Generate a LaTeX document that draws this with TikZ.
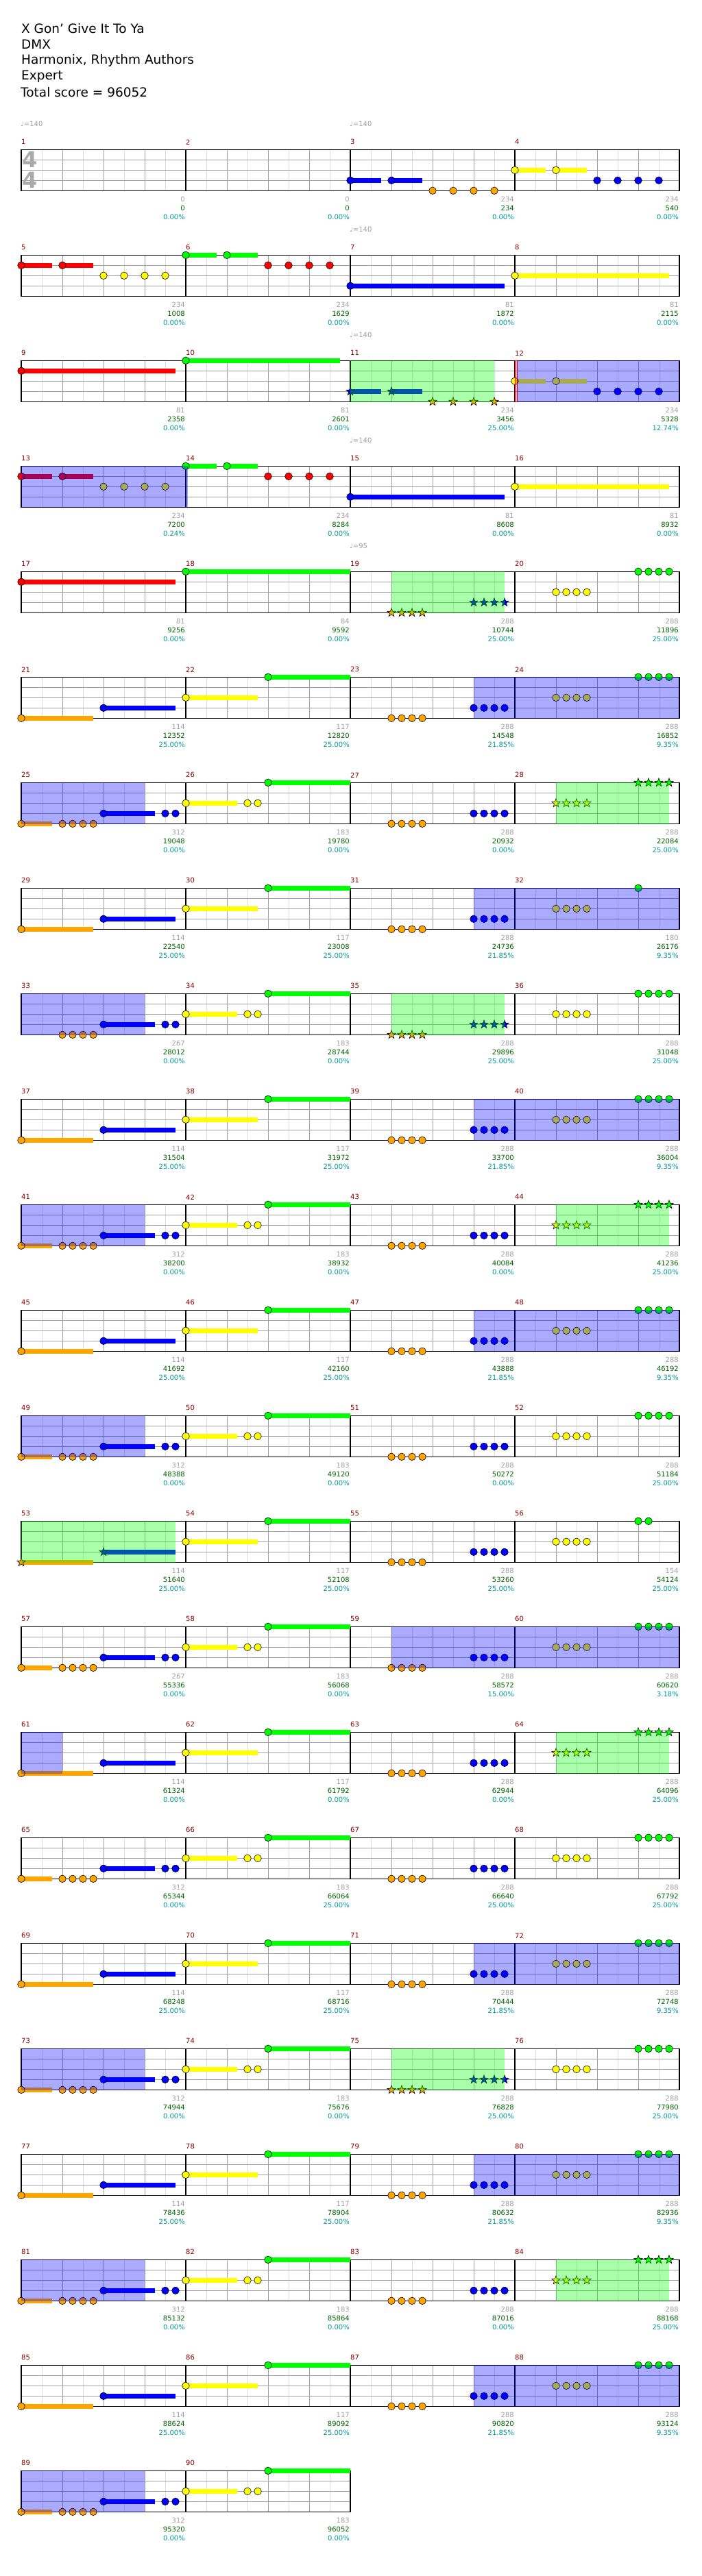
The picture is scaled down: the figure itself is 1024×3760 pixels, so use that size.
\documentclass[tikz,border=0pt]{standalone}
\usepackage{fontspec}
\setmainfont{DejaVu Sans}
\definecolor{lane0}{RGB}{0,255,0}
\definecolor{lane1}{RGB}{255,0,0}
\definecolor{lane2}{RGB}{255,255,0}
\definecolor{lane3}{RGB}{0,0,255}
\definecolor{lane4}{RGB}{255,165,0}
\definecolor{gridl}{RGB}{221,221,221}
\definecolor{gridd}{RGB}{160,160,160}
\definecolor{numgray}{RGB}{160,160,160}
\definecolor{numgreen}{RGB}{0,100,0}
\definecolor{numcyan}{RGB}{0,153,153}
\definecolor{mnumred}{RGB}{139,0,0}
\definecolor{tsgray}{RGB}{170,170,170}
\tikzset{
 notec/.style={draw=black,line width=0.6pt},
 gridlight/.style={draw=gridl,line width=1pt},
 griddark/.style={draw=gridd,line width=1pt},
 barline/.style={draw=black,line width=1.3pt},
 smalltxt/.style={inner sep=0pt,font=\fontsize{10}{12}\selectfont},
 titletxt/.style={inner sep=0pt,anchor=west,font=\fontsize{18.5}{22}\selectfont},
 bluereg/.style={fill=lane3,fill opacity=0.333},
 greenreg/.style={fill=lane0,fill opacity=0.333},
}
\newcommand\mpos[1]{\pgfmathtruncatemacro\mr{(#1-1)/4}\pgfmathtruncatemacro\mc{#1-1-4*\mr}\pgfmathsetmacro\mx{31+240*\mc}\pgfmathsetmacro\my{218.3+154*\mr}}
\newcommand\gnote[3]{\mpos{#1}\draw[notec,fill=lane#2] (\mx+#3,\my+15*#2) circle[radius=5.3];}
\newcommand\gsus[4]{\mpos{#1}\fill[lane#2] (\mx+#3,\my+15*#2-3.2) rectangle (\mx+#4,\my+15*#2+3.2);\draw[notec,fill=lane#2] (\mx+#3,\my+15*#2) circle[radius=5.3];}
\newcommand\gstar[3]{\mpos{#1}\draw[notec,fill=lane#2,shift={(\mx+#3,\my+15*#2)}] (-90:6.5) -- (-54:2.6) -- (-18:6.5) -- (18:2.6) -- (54:6.5) -- (90:2.6) -- (126:6.5) -- (162:2.6) -- (198:6.5) -- (234:2.6) -- cycle;}
\newcommand\gsstar[4]{\mpos{#1}\fill[lane#2] (\mx+#3,\my+15*#2-3.2) rectangle (\mx+#4,\my+15*#2+3.2);\gstar{#1}{#2}{#3}}
\newcommand\gquad[3]{\foreach \q in {0,15,30,45}{\gnote{#1}{#2}{#3+\q}}}
\newcommand\gquads[3]{\foreach \q in {0,15,30,45}{\gstar{#1}{#2}{#3+\q}}}
\newcommand\gfour[2]{\foreach \q in {120,150,180,210}{\gnote{#1}{#2}{\q}}}
\newcommand\gfours[2]{\foreach \q in {120,150,180,210}{\gstar{#1}{#2}{\q}}}
\newcommand\gblue[3]{\mpos{#1}\fill[bluereg] (\mx+#2,\my-0.8) rectangle (\mx+#3,\my+60.8);}
\newcommand\ggreen[3]{\mpos{#1}\fill[greenreg] (\mx+#2,\my-0.8) rectangle (\mx+#3,\my+60.8);}
\newcommand\gnums[4]{\mpos{#1}%
 \node[smalltxt,text=numgray,anchor=east] (ga#1) at (\mx+239,\my+72.7) {#2};%
 \node[smalltxt,text=numgreen,anchor=east] (gb#1) at (\mx+239,\my+85.7) {#3};%
 \node[smalltxt,text=numcyan,anchor=east] (gc#1) at (\mx+239,\my+98.4) {#4\%};}
\newcommand\gtempo[2]{\mpos{#1}\node[smalltxt,text=numgray,anchor=west] (tp#1) at (\mx-1,\my-37) {♩=#2};}
% patterns
\newcommand\patA[1]{\gsus{#1}{4}{0}{105}\gsus{#1}{3}{120}{225}}
\newcommand\patB[1]{\gsus{#1}{2}{0}{105}\gsus{#1}{0}{120}{240}}
\newcommand\patC[1]{\gquad{#1}{4}{60}\gquad{#1}{3}{180}}
\newcommand\patCs[1]{\gquads{#1}{4}{60}\gquads{#1}{3}{180}}
\newcommand\patD[1]{\gquad{#1}{2}{60}\gquad{#1}{0}{180}}
\newcommand\patDs[1]{\gquads{#1}{2}{60}\gquads{#1}{0}{180}}
\newcommand\patEp[1]{\gquad{#1}{4}{60}\gsus{#1}{3}{120}{195}\gnote{#1}{3}{210}\gnote{#1}{3}{225}}
\newcommand\patE[1]{\gsus{#1}{4}{0}{45}\patEp{#1}}
\newcommand\patF[1]{\gsus{#1}{2}{0}{75}\gnote{#1}{2}{90}\gnote{#1}{2}{105}\gsus{#1}{0}{120}{240}}
\begin{document}
\begin{tikzpicture}[x=1pt,y=-1pt]
\fill[white] (0,0) rectangle (1024,3760);
\useasboundingbox (0,0) rectangle (1024,3760);
% title
\node[titletxt] (t1) at (31,42) {X Gon' Give It To Ya};
\node[titletxt] (t2) at (31,65) {DMX};
\node[titletxt] (t3) at (31,88.3) {Harmonix, Rhythm Authors};
\node[titletxt] (t4) at (31,111.7) {Expert};
\node[titletxt] (t5) at (30,134.3) {Total score = 96052};
% grid
\foreach \m in {1,...,90}{\mpos{\m}
 \foreach \k in {30,90,150,210}{\draw[gridlight] (\mx+\k,\my) -- (\mx+\k,\my+60);}
 \foreach \k in {60,120,180}{\draw[griddark] (\mx+\k,\my) -- (\mx+\k,\my+60);}
 \foreach \k in {15,30,45}{\draw[griddark] (\mx,\my+\k) -- (\mx+240,\my+\k);}
 \draw[barline] (\mx,\my) -- (\mx,\my+60);
 \node[smalltxt,text=mnumred,anchor=west] (mn\m) at (\mx,\my-11) {\m};
}
\foreach \r in {0,...,21}{\draw[barline] (31,218.3+154*\r) rectangle (991,278.3+154*\r);}
\draw[barline] (31,218.3+154*22) rectangle (511,278.3+154*22);
\node[inner sep=0pt,text=tsgray,font=\fontsize{32}{32}\bfseries] (ts1) at (44,233.3) {4};
\node[inner sep=0pt,text=tsgray,font=\fontsize{32}{32}\bfseries] (ts2) at (44,263.3) {4};
% tempos
\gtempo{1}{140}\gtempo{3}{140}\gtempo{7}{140}\gtempo{11}{140}\gtempo{15}{140}\gtempo{19}{95}
% notes
\gsus{3}{3}{0}{45}\gsus{3}{3}{60}{105}\gfour{3}{4}
\gsus{4}{2}{0}{45}\gsus{4}{2}{60}{105}\gfour{4}{3}
\gsus{5}{1}{0}{45}\gsus{5}{1}{60}{105}\gfour{5}{2}
\gsus{6}{0}{0}{45}\gsus{6}{0}{60}{105}\gfour{6}{1}
\gsus{7}{3}{0}{225}
\gsus{8}{2}{0}{225}
\gsus{9}{1}{0}{225}
\gsus{10}{0}{0}{225}
\gsstar{11}{3}{0}{45}\gsstar{11}{3}{60}{105}\gfours{11}{4}
\gsus{12}{2}{0}{45}\gsus{12}{2}{60}{105}\gfour{12}{3}
\gsus{13}{1}{0}{45}\gsus{13}{1}{60}{105}\gfour{13}{2}
\gsus{14}{0}{0}{45}\gsus{14}{0}{60}{105}\gfour{14}{1}
\gsus{15}{3}{0}{225}
\gsus{16}{2}{0}{225}
\gsus{17}{1}{0}{225}
\gsus{18}{0}{0}{240}
\patCs{19}
\patD{20}
\patA{21}\patB{22}\patC{23}\patD{24}
\patE{25}\patF{26}\patC{27}\patDs{28}
\patA{29}\patB{30}\patC{31}\gquad{32}{2}{60}\gnote{32}{0}{180}
\patEp{33}\patF{34}\patCs{35}\patD{36}
\patA{37}\patB{38}\patC{39}\patD{40}
\patE{41}\patF{42}\patC{43}\patDs{44}
\patA{45}\patB{46}\patC{47}\patD{48}
\patE{49}\patF{50}\patC{51}\patD{52}
\gsstar{53}{4}{0}{105}\gsstar{53}{3}{120}{225}\patB{54}\patC{55}\gquad{56}{2}{60}\gnote{56}{0}{180}\gnote{56}{0}{195}
\patE{57}\patF{58}\patC{59}\patD{60}
\patA{61}\patB{62}\patC{63}\patDs{64}
\patE{65}\patF{66}\patC{67}\patD{68}
\patA{69}\patB{70}\patC{71}\patD{72}
\patE{73}\patF{74}\patCs{75}\patD{76}
\patA{77}\patB{78}\patC{79}\patD{80}
\patE{81}\patF{82}\patC{83}\patDs{84}
\patA{85}\patB{86}\patC{87}\patD{88}
\patE{89}\patF{90}
% overlays
\ggreen{11}{0}{210}
\mpos{12}\fill[lane1,fill opacity=0.333,draw=lane1,line width=0.6pt] (\mx,\my) rectangle (\mx+3.4,\my+60);
\gblue{12}{3.4}{240}
\gblue{13}{0}{243}
\ggreen{19}{60}{225}
\gblue{23}{180}{480}
\gblue{25}{0}{180}
\ggreen{28}{60}{225}
\gblue{31}{180}{480}
\gblue{33}{0}{180}
\ggreen{35}{60}{225}
\gblue{39}{180}{480}
\gblue{41}{0}{180}
\ggreen{44}{60}{225}
\gblue{47}{180}{480}
\gblue{49}{0}{180}
\ggreen{53}{0}{225}
\gblue{59}{60}{480}
\gblue{61}{0}{60}
\ggreen{64}{60}{225}
\gblue{71}{180}{480}
\gblue{73}{0}{180}
\ggreen{75}{60}{225}
\gblue{79}{180}{480}
\gblue{81}{0}{180}
\ggreen{84}{60}{225}
\gblue{87}{180}{480}
\gblue{89}{0}{180}
% numbers
\gnums{1}{0}{0}{0.00}\gnums{2}{0}{0}{0.00}\gnums{3}{234}{234}{0.00}\gnums{4}{234}{540}{0.00}
\gnums{5}{234}{1008}{0.00}\gnums{6}{234}{1629}{0.00}\gnums{7}{81}{1872}{0.00}\gnums{8}{81}{2115}{0.00}
\gnums{9}{81}{2358}{0.00}\gnums{10}{81}{2601}{0.00}\gnums{11}{234}{3456}{25.00}\gnums{12}{234}{5328}{12.74}
\gnums{13}{234}{7200}{0.24}\gnums{14}{234}{8284}{0.00}\gnums{15}{81}{8608}{0.00}\gnums{16}{81}{8932}{0.00}
\gnums{17}{81}{9256}{0.00}\gnums{18}{84}{9592}{0.00}\gnums{19}{288}{10744}{25.00}\gnums{20}{288}{11896}{25.00}
\gnums{21}{114}{12352}{25.00}\gnums{22}{117}{12820}{25.00}\gnums{23}{288}{14548}{21.85}\gnums{24}{288}{16852}{9.35}
\gnums{25}{312}{19048}{0.00}\gnums{26}{183}{19780}{0.00}\gnums{27}{288}{20932}{0.00}\gnums{28}{288}{22084}{25.00}
\gnums{29}{114}{22540}{25.00}\gnums{30}{117}{23008}{25.00}\gnums{31}{288}{24736}{21.85}\gnums{32}{180}{26176}{9.35}
\gnums{33}{267}{28012}{0.00}\gnums{34}{183}{28744}{0.00}\gnums{35}{288}{29896}{25.00}\gnums{36}{288}{31048}{25.00}
\gnums{37}{114}{31504}{25.00}\gnums{38}{117}{31972}{25.00}\gnums{39}{288}{33700}{21.85}\gnums{40}{288}{36004}{9.35}
\gnums{41}{312}{38200}{0.00}\gnums{42}{183}{38932}{0.00}\gnums{43}{288}{40084}{0.00}\gnums{44}{288}{41236}{25.00}
\gnums{45}{114}{41692}{25.00}\gnums{46}{117}{42160}{25.00}\gnums{47}{288}{43888}{21.85}\gnums{48}{288}{46192}{9.35}
\gnums{49}{312}{48388}{0.00}\gnums{50}{183}{49120}{0.00}\gnums{51}{288}{50272}{0.00}\gnums{52}{288}{51184}{25.00}
\gnums{53}{114}{51640}{25.00}\gnums{54}{117}{52108}{25.00}\gnums{55}{288}{53260}{25.00}\gnums{56}{154}{54124}{25.00}
\gnums{57}{267}{55336}{0.00}\gnums{58}{183}{56068}{0.00}\gnums{59}{288}{58572}{15.00}\gnums{60}{288}{60620}{3.18}
\gnums{61}{114}{61324}{0.00}\gnums{62}{117}{61792}{0.00}\gnums{63}{288}{62944}{0.00}\gnums{64}{288}{64096}{25.00}
\gnums{65}{312}{65344}{0.00}\gnums{66}{183}{66064}{25.00}\gnums{67}{288}{66640}{25.00}\gnums{68}{288}{67792}{25.00}
\gnums{69}{114}{68248}{25.00}\gnums{70}{117}{68716}{25.00}\gnums{71}{288}{70444}{21.85}\gnums{72}{288}{72748}{9.35}
\gnums{73}{312}{74944}{0.00}\gnums{74}{183}{75676}{0.00}\gnums{75}{288}{76828}{25.00}\gnums{76}{288}{77980}{25.00}
\gnums{77}{114}{78436}{25.00}\gnums{78}{117}{78904}{25.00}\gnums{79}{288}{80632}{21.85}\gnums{80}{288}{82936}{9.35}
\gnums{81}{312}{85132}{0.00}\gnums{82}{183}{85864}{0.00}\gnums{83}{288}{87016}{0.00}\gnums{84}{288}{88168}{25.00}
\gnums{85}{114}{88624}{25.00}\gnums{86}{117}{89092}{25.00}\gnums{87}{288}{90820}{21.85}\gnums{88}{288}{93124}{9.35}
\gnums{89}{312}{95320}{0.00}\gnums{90}{183}{96052}{0.00}
\end{tikzpicture}
\end{document}
